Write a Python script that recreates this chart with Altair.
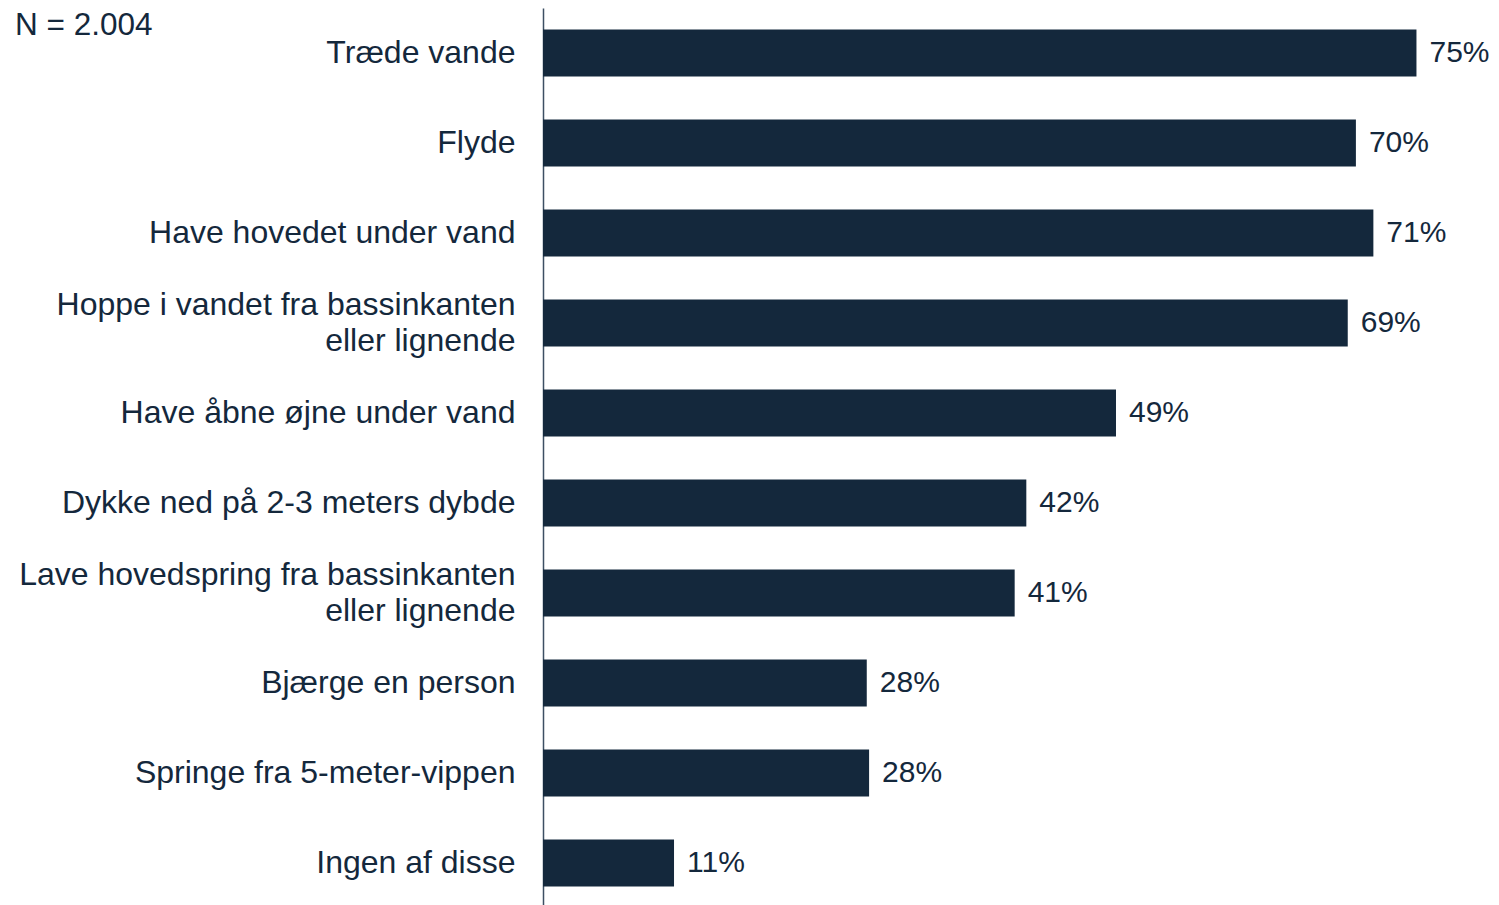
import altair as alt
import pandas as pd

categories = [
    "Træde vande",
    "Flyde",
    "Have hovedet under vand",
    "Hoppe i vandet fra bassinkanten|eller lignende",
    "Have åbne øjne under vand",
    "Dykke ned på 2-3 meters dybde",
    "Lave hovedspring fra bassinkanten|eller lignende",
    "Bjærge en person",
    "Springe fra 5-meter-vippen",
    "Ingen af disse",
]
values = [75.0, 69.8, 71.3, 69.1, 49.2, 41.5, 40.5, 27.8, 28.0, 11.25]
value_labels = ["75%", "70%", "71%", "69%", "49%", "42%", "41%", "28%", "28%", "11%"]
note = "N = 2.004"

df = pd.DataFrame({"cat": categories, "val": values, "lab": value_labels})

NAVY = "#14283c"
FONT = "Liberation Sans"
FS = 32

y_scale = alt.Scale(paddingInner=0.478, paddingOuter=0.239)
x_scale = alt.Scale(domain=[0, 81.4], nice=False, zero=True)

y_axis = alt.Axis(
    title=None,
    ticks=False,
    domain=True,
    domainColor="#3d4f63",
    domainWidth=1.5,
    labelFont=FONT,
    labelFontSize=FS,
    labelColor=NAVY,
    labelPadding=28,
    labelLimit=700,
    labelLineHeight=36,
    labelBaseline="middle",
    labelOffset=alt.condition("indexof(datum.value, '|') >= 0", alt.value(-18), alt.value(0)),
    labelExpr="split(datum.value, '|')",
    grid=False,
)

y_enc = alt.Y("cat:N", sort=categories, scale=y_scale, axis=y_axis)

bars = alt.Chart(df).mark_bar(color=NAVY).encode(
    y=y_enc, x=alt.X("val:Q", scale=x_scale, axis=None)
)

texts = alt.Chart(df).mark_text(
    align="left", baseline="middle", dx=13, font=FONT, fontSize=30, color=NAVY
).encode(
    y=y_enc,
    x=alt.X("val:Q", scale=x_scale, axis=None),
    text="lab:N",
)

note_df = pd.DataFrame({"t": [note]})
note_mark = alt.Chart(note_df).mark_text(
    align="left", baseline="top", font=FONT, fontSize=31.5, color=NAVY
).encode(x=alt.value(-528), y=alt.value(2), text="t:N")

chart = (
    alt.layer(bars, texts, note_mark)
    .properties(
        width=948,
        height=900,
        background="white",
        autosize=alt.AutoSizeParams(type="none"),
        padding={"left": 535, "top": 0, "right": 0, "bottom": 0},
    )
    .configure_view(stroke=None, strokeWidth=0)
)

chart.save("out.html", embed_options={"renderer": "svg", "actions": False})
